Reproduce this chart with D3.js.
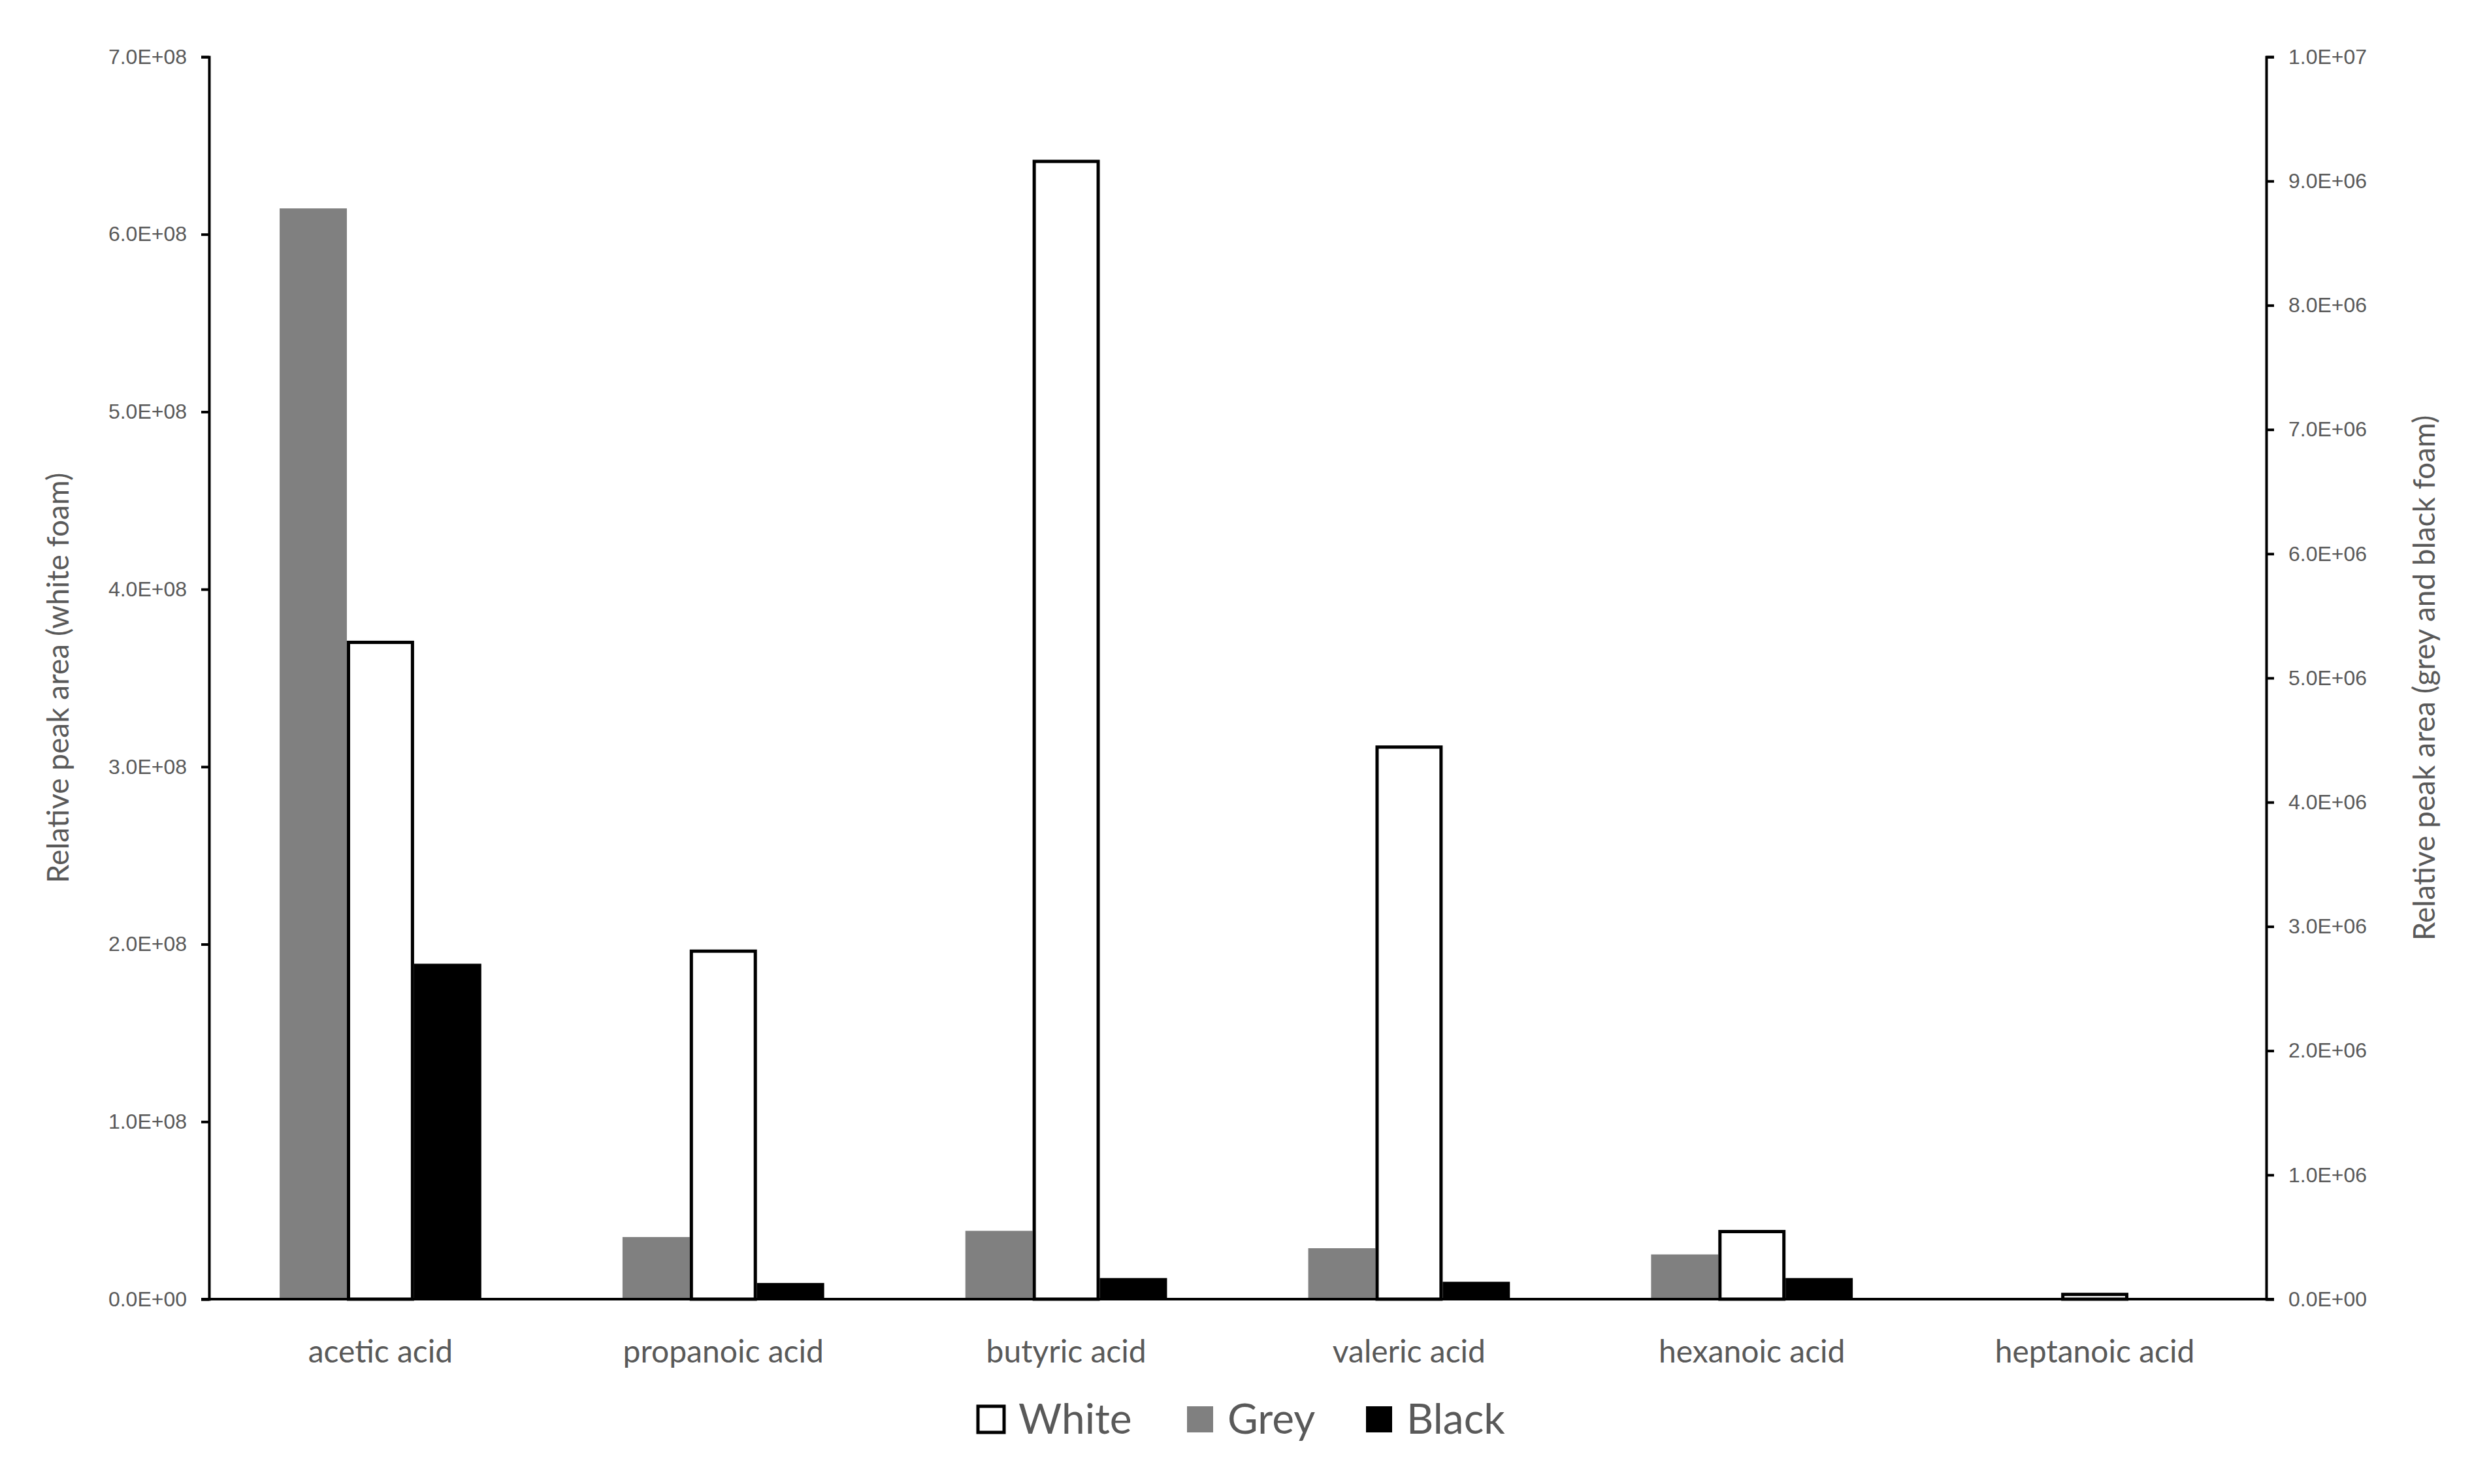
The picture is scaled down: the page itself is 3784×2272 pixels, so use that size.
<!DOCTYPE html>
<html>
<head>
<meta charset="utf-8">
<script src="https://cdn.jsdelivr.net/npm/d3@7"></script>
<style>
  body { margin: 0; background: #fff; }
  svg { font-family: Lato, "Open Sans", sans-serif; }
</style>
</head>
<body>
<svg id="chart" width="3784" height="2272"></svg>
<script>
// data
const categories = ["acetic acid", "propanoic acid", "butyric acid", "valeric acid", "hexanoic acid", "heptanoic acid"]
const whiteValues = [3.71e8, 1.97e8, 6.42e8, 3.12e8, 0.39e8, 0.036e8]   // left axis
const greyValues = [8.78e6, 0.50e6, 0.55e6, 0.41e6, 0.36e6, 0]          // right axis
const blackValues = [2.70e6, 0.13e6, 0.17e6, 0.14e6, 0.17e6, 0]         // right axis
const leftTicks = d3.range(0, 7.01e8, 1e8)
const rightTicks = d3.range(0, 1.001e7, 1e6)
const series = ["Grey", "White", "Black"]
const legendOrder = ["White", "Grey", "Black"]

const fills = { White: "#fff", Grey: "#808080", Black: "#000" }
const textGrey = "#595959"

const plotLeft = 320, plotRight = 3469, plotTop = 87, plotBottom = 1989

const svg = d3.select("#chart")

const x = d3.scaleBand().domain(categories).range([plotLeft, plotRight])
const xInner = d3.scaleBand().domain(series).range([0, x.bandwidth()]).paddingOuter(1.05)
const yLeft = d3.scaleLinear().domain([0, 7e8]).range([plotBottom, plotTop])
const yRight = d3.scaleLinear().domain([0, 1e7]).range([plotBottom, plotTop])

const fmt = v => {
  if (v === 0) return "0.0E+00"
  const e = Math.floor(Math.log10(v) + 1e-9)
  return (v / Math.pow(10, e)).toFixed(1) + "E+" + String(e).padStart(2, "0")
}

const rows = categories.map((c, i) => ({ c, Grey: greyValues[i], White: whiteValues[i], Black: blackValues[i] }))

// bars
series.forEach(s => {
  const y = s === "White" ? yLeft : yRight
  const inset = s === "White" ? 2.5 : 0
  svg.append("g").selectAll("rect")
    .data(rows.filter(d => d[s] > 0))
    .join("rect")
    .attr("x", d => x(d.c) + xInner(s) + inset)
    .attr("width", xInner.bandwidth() - 2 * inset)
    .attr("y", d => y(d[s]) + inset)
    .attr("height", d => Math.max(0, plotBottom - y(d[s]) - inset))
    .attr("fill", fills[s])
    .attr("stroke", s === "White" ? "#000" : "none")
    .attr("stroke-width", 5)
})

// axes
const styleAxis = g => {
  g.select(".domain").attr("stroke", "#000").attr("stroke-width", 4)
  g.selectAll(".tick line").attr("stroke", "#000").attr("stroke-width", 4)
  g.selectAll(".tick text").attr("fill", textGrey).attr("font-size", 32)
}

svg.append("g")
  .attr("transform", `translate(${plotLeft},0)`)
  .call(d3.axisLeft(yLeft).tickValues(leftTicks).tickFormat(fmt).tickSize(12).tickSizeOuter(12).tickPadding(22))
  .call(styleAxis)

svg.append("g")
  .attr("transform", `translate(${plotRight},0)`)
  .call(d3.axisRight(yRight).tickValues(rightTicks).tickFormat(fmt).tickSize(12).tickSizeOuter(12).tickPadding(22))
  .call(styleAxis)

svg.append("line")
  .attr("x1", plotLeft - 12).attr("x2", plotRight + 12)
  .attr("y1", plotBottom).attr("y2", plotBottom)
  .attr("stroke", "#000").attr("stroke-width", 4)

// category labels
svg.append("g").selectAll("text")
  .data(categories)
  .join("text")
  .attr("x", d => x(d) + x.bandwidth() / 2)
  .attr("y", 2086)
  .attr("text-anchor", "middle")
  .attr("font-size", 48)
  .attr("fill", textGrey)
  .text(d => d)

// axis titles
svg.append("text")
  .attr("transform", `translate(105,${(plotTop + plotBottom) / 2}) rotate(-90)`)
  .attr("text-anchor", "middle")
  .attr("font-size", 46)
  .attr("fill", textGrey)
  .text("Relative peak area (white foam)")

svg.append("text")
  .attr("transform", `translate(3727,${(plotTop + plotBottom) / 2}) rotate(-90)`)
  .attr("text-anchor", "middle")
  .attr("font-size", 46)
  .attr("fill", textGrey)
  .text("Relative peak area (grey and black foam)")

// legend
const legendX = [1497, 1817, 2091]
const legend = svg.append("g").selectAll("g")
  .data(legendOrder)
  .join("g")
  .attr("transform", (d, i) => `translate(${legendX[i]},2195)`)

legend.append("rect")
  .attr("x", 0).attr("y", -42)
  .attr("width", 40).attr("height", 40)
  .attr("fill", d => fills[d])
  .attr("stroke", d => d === "White" ? "#000" : "none")
  .attr("stroke-width", 5)

legend.append("text")
  .attr("x", 62).attr("y", 0)
  .attr("font-size", 64)
  .attr("fill", textGrey)
  .text(d => d)
</script>
</body>
</html>
